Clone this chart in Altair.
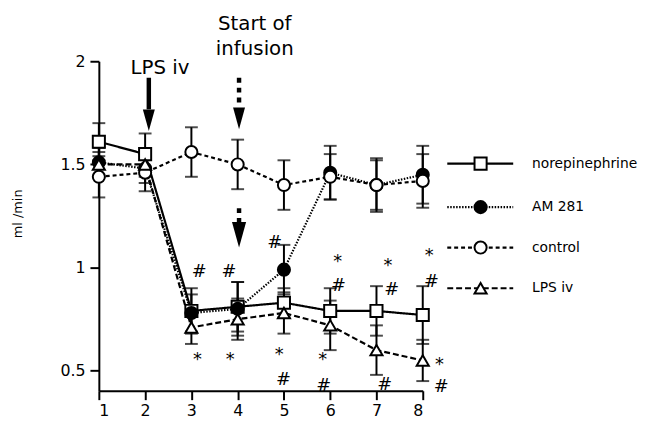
import altair as alt
import pandas as pd

FONT = "DejaVu Sans"

days = [1, 2, 3, 4, 5, 6, 7, 8]
series_names = ["norepinephrine", "AM 281", "control", "LPS iv"]

nor_mean = [1.61, 1.55, 0.79, 0.81, 0.83, 0.79, 0.79, 0.77]
nor_sem = [0.09, 0.10, 0.11, 0.12, 0.07, 0.11, 0.12, 0.14]
am_mean = [1.51, 1.48, 0.78, 0.80, 0.99, 1.46, 1.40, 1.45]
am_sem = [0.07, 0.07, 0.09, 0.13, 0.12, 0.13, 0.13, 0.14]
ctl_mean = [1.44, 1.46, 1.56, 1.50, 1.40, 1.44, 1.40, 1.42]
ctl_sem = [0.10, 0.09, 0.12, 0.12, 0.12, 0.11, 0.12, 0.13]
lps_mean = [1.50, 1.50, 0.71, 0.75, 0.78, 0.72, 0.60, 0.55]
lps_sem = [0.06, 0.06, 0.08, 0.10, 0.10, 0.12, 0.12, 0.10]

dash_styles = [[1, 0], [1.5, 1.5], [4, 3], [6, 3]]
shape_styles = ["square", "circle", "circle", "triangle-up"]
fill_styles = ["white", "black", "white", "white"]

# significance marks
star_x = [3.13, 3.84, 4.90, 5.84, 6.16, 7.25, 8.14, 8.36]
star_y = [0.575, 0.575, 0.60, 0.575, 1.05, 1.03, 1.08, 0.55]
hash_x = [3.17, 3.81, 4.80, 6.18, 4.99, 5.86, 7.33, 8.19, 7.18, 8.40]
hash_y = [0.98, 0.98, 1.12, 0.91, 0.455, 0.427, 0.89, 0.93, 0.43, 0.42]

# arrows (event markers)
solid_arrow_x = [2.08]
solid_arrow_top = [1.92]
solid_arrow_bottom = [1.767]
dashed_arrow_x = [4.03, 4.03]
dashed_arrow_top = [1.92, 1.288]
dashed_arrow_bottom = [1.776, 1.221]
head_x = [2.08, 4.03, 4.03]
head_y = [1.714, 1.723, 1.159]
head_size = [484, 484, 676]

note_text = ["LPS iv", "Start of", "infusion"]
note_x = [2.32, 4.37, 4.37]
note_y = [1.939, 2.15, 2.03]

# legend rows
legend_y = [1.504, 1.293, 1.097, 0.900]
legend_line_x = [8.53, 9.955]
legend_sym_x = 9.25
legend_text_x = 10.36

rows = []
for name, means, sems in zip(series_names, [nor_mean, am_mean, ctl_mean, lps_mean],
                             [nor_sem, am_sem, ctl_sem, lps_sem]):
    for d, m, s in zip(days, means, sems):
        rows.append({"series": name, "day": d, "mean": m, "lo": m - s, "hi": m + s})
df = pd.DataFrame(rows)

xscale = alt.Scale(domain=[1, 8], nice=False, zero=False)
yscale = alt.Scale(domain=[0.403, 2], nice=False, zero=False)
dash_scale = alt.Scale(domain=series_names, range=dash_styles)
shape_scale = alt.Scale(domain=series_names, range=shape_styles)
fill_scale = alt.Scale(domain=series_names, range=fill_styles)

x_axis = alt.Axis(values=days, format="d", title=None, labelPadding=3,
                  labelFontSize=16, labelFont=FONT, labelColor="black")
y_axis = alt.Axis(values=[0.5, 1, 1.5, 2], format=".1~f", title="ml /min",
                  titleFontSize=13, titleFontWeight="normal", titleX=-82, titleY=154,
                  titleAngle=-90, titleBaseline="middle", titleAlign="center",
                  titleColor="black", titleFont=FONT,
                  labelPadding=5, labelFontSize=16, labelFont=FONT, labelColor="black")

base = alt.Chart(df)

err_rule = base.mark_rule(color="black", strokeWidth=2).encode(
    x=alt.X("day:Q", scale=xscale, axis=x_axis),
    y=alt.Y("lo:Q", scale=yscale, axis=y_axis),
    y2="hi:Q",
)
cap_lo = base.mark_tick(color="black", orient="horizontal", size=13, thickness=2).encode(
    x=alt.X("day:Q", scale=xscale), y=alt.Y("lo:Q", scale=yscale))
cap_hi = base.mark_tick(color="black", orient="horizontal", size=13, thickness=2).encode(
    x=alt.X("day:Q", scale=xscale), y=alt.Y("hi:Q", scale=yscale))

lines = base.mark_line(color="black", strokeWidth=2.2).encode(
    x=alt.X("day:Q", scale=xscale),
    y=alt.Y("mean:Q", scale=yscale),
    strokeDash=alt.StrokeDash("series:N", scale=dash_scale, legend=None),
    detail="series:N",
)

points = base.mark_point(filled=True, size=150, stroke="black", strokeWidth=2, opacity=1).encode(
    x=alt.X("day:Q", scale=xscale),
    y=alt.Y("mean:Q", scale=yscale),
    shape=alt.Shape("series:N", scale=shape_scale, legend=None),
    fill=alt.Fill("series:N", scale=fill_scale, legend=None),
)

stars = alt.Chart(pd.DataFrame({"x": star_x, "y": star_y, "t": ["*"] * len(star_x)})).mark_text(
    font=FONT, fontSize=18, color="black", baseline="middle", dy=5).encode(
    x=alt.X("x:Q", scale=xscale), y=alt.Y("y:Q", scale=yscale), text="t:N")
hashes = alt.Chart(pd.DataFrame({"x": hash_x, "y": hash_y, "t": ["#"] * len(hash_x)})).mark_text(
    font=FONT, fontSize=18, color="black", baseline="middle").encode(
    x=alt.X("x:Q", scale=xscale), y=alt.Y("y:Q", scale=yscale), text="t:N")

solid_shafts = alt.Chart(pd.DataFrame({"x": solid_arrow_x, "top": solid_arrow_top,
                                       "bottom": solid_arrow_bottom})).mark_rule(
    color="black", strokeWidth=4.5).encode(
    x=alt.X("x:Q", scale=xscale), y=alt.Y("top:Q", scale=yscale), y2="bottom:Q")
dashed_shafts = alt.Chart(pd.DataFrame({"x": dashed_arrow_x, "top": dashed_arrow_top,
                                        "bottom": dashed_arrow_bottom})).mark_rule(
    color="black", strokeWidth=4.5, strokeDash=[5, 5]).encode(
    x=alt.X("x:Q", scale=xscale), y=alt.Y("top:Q", scale=yscale), y2="bottom:Q")
heads = alt.Chart(pd.DataFrame({"x": head_x, "y": head_y, "hs": head_size})).mark_point(
    filled=True, color="black", opacity=1, shape="M-0.55,-1L0.55,-1L0,1Z").encode(
    x=alt.X("x:Q", scale=xscale),
    y=alt.Y("y:Q", scale=yscale),
    size=alt.Size("hs:Q", scale=None, legend=None),
)
notes = alt.Chart(pd.DataFrame({"x": note_x, "y": note_y, "t": note_text})).mark_text(
    font=FONT, fontSize=20, color="black", align="center", baseline="alphabetic").encode(
    x=alt.X("x:Q", scale=xscale), y=alt.Y("y:Q", scale=yscale), text="t:N")

leg_df = pd.DataFrame({"series": series_names, "ly": legend_y,
                       "x1": [legend_line_x[0]] * 4, "x2": [legend_line_x[1]] * 4,
                       "xs": [legend_sym_x] * 4, "xt": [legend_text_x] * 4})
leg_lines = alt.Chart(leg_df).mark_rule(color="black", strokeWidth=2.2).encode(
    x=alt.X("x1:Q", scale=xscale), x2="x2:Q",
    y=alt.Y("ly:Q", scale=yscale),
    strokeDash=alt.StrokeDash("series:N", scale=dash_scale, legend=None),
)
leg_points = alt.Chart(leg_df).mark_point(filled=True, size=150, stroke="black", strokeWidth=2, opacity=1).encode(
    x=alt.X("xs:Q", scale=xscale),
    y=alt.Y("ly:Q", scale=yscale),
    shape=alt.Shape("series:N", scale=shape_scale, legend=None),
    fill=alt.Fill("series:N", scale=fill_scale, legend=None),
)
leg_text = alt.Chart(leg_df).mark_text(font=FONT, fontSize=14, color="black", align="left",
                                       baseline="middle").encode(
    x=alt.X("xt:Q", scale=xscale), y=alt.Y("ly:Q", scale=yscale), text="series:N")

chart = alt.layer(
    err_rule, cap_lo, cap_hi, lines, points, stars, hashes, solid_shafts, dashed_shafts,
    heads, notes, leg_lines, leg_points, leg_text,
).properties(
    width=328, height=333.7,
    autosize=alt.AutoSizeParams(type="none"),
    padding={"left": 92, "top": 51.3, "right": 220, "bottom": 29},
    background="white",
).configure_view(stroke=None).configure_axis(
    grid=False, domainColor="black", domainWidth=2, tickColor="black", tickWidth=2,
    tickSize=9,
)

chart.save("out.html", embed_options={"renderer": "svg", "actions": False})
